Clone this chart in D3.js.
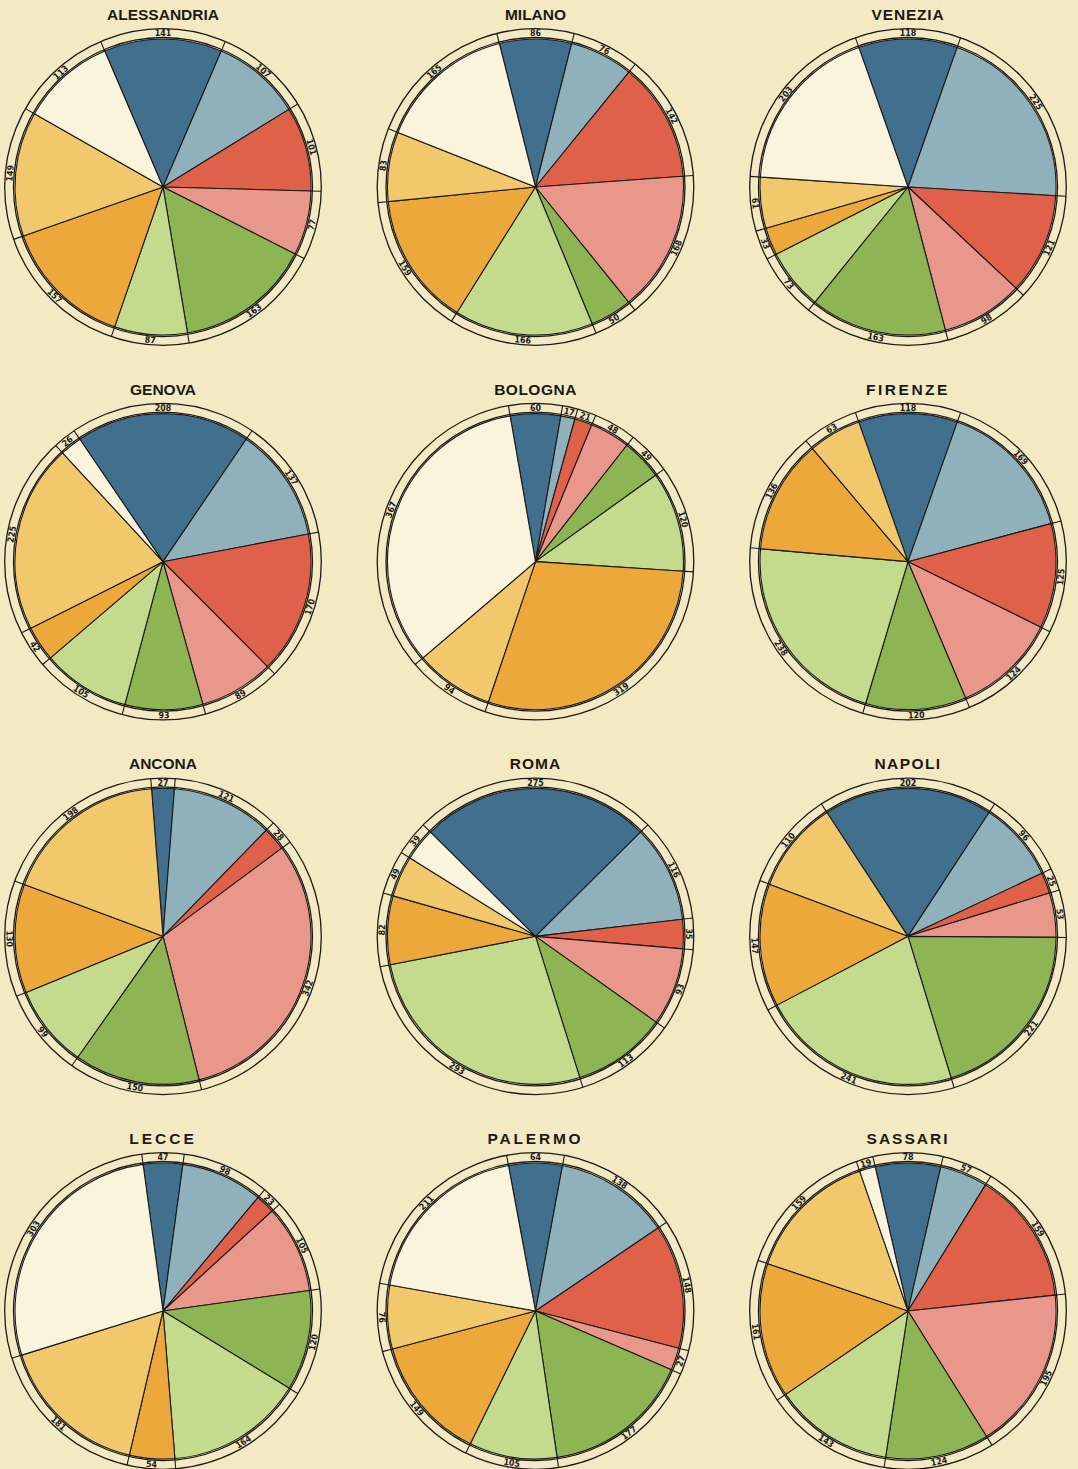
<!DOCTYPE html>
<html>
<head>
<meta charset="utf-8">
<script src="https://cdn.jsdelivr.net/npm/d3@7"></script>
<style>
  html, body { margin: 0; padding: 0; background: #f3eac3; }
  svg { display: block; }
</style>
</head>
<body>
<script>
// ---- DATA (values read from the rings; each city totals ~1095) ----
const cities = ["ALESSANDRIA", "MILANO", "VENEZIA", "GENOVA", "BOLOGNA", "FIRENZE",
                "ANCONA", "ROMA", "NAPOLI", "LECCE", "PALERMO", "SASSARI"];
const categories = ["blu scuro", "azzurro", "rosso", "rosa", "verde scuro",
                    "verde chiaro", "arancio", "giallo", "bianco"];
const alessandria = [141, 107, 101, 77, 163, 87, 157, 149, 113];
const milano      = [86, 76, 142, 168, 50, 166, 159, 83, 165];
const venezia     = [118, 225, 121, 98, 163, 73, 33, 61, 203];
const genova      = [208, 137, 170, 89, 93, 105, 42, 225, 26];
const bologna     = [60, 17, 21, 48, 49, 120, 319, 94, 367];
const firenze     = [118, 169, 125, 124, 120, 238, 136, 63, 0];
const ancona      = [27, 121, 28, 342, 150, 99, 130, 198, 0];
const roma        = [275, 116, 35, 93, 113, 293, 82, 49, 39];
const napoli      = [202, 96, 25, 53, 221, 241, 147, 110, 0];
const lecce       = [47, 98, 23, 105, 120, 164, 54, 181, 303];
const palermo     = [64, 138, 148, 27, 177, 105, 149, 76, 211];
const sassari     = [78, 57, 159, 195, 124, 143, 161, 159, 19];
const series = [alessandria, milano, venezia, genova, bologna, firenze,
                ancona, roma, napoli, lecce, palermo, sassari];

// ---- STYLE ----
const colors = ["#41708f", "#8fb1bb", "#df6149", "#e8978a", "#8db553",
                "#c4da8c", "#eca83a", "#f1c86c", "#faf4dc"];
const titleTracking = [0, 0, 0.8, 0, 0.5, 2.5, 0, 1, 1.4, 3, 2.8, 2];
const bg = "#f3eac3";
const ink = "#1c1a18";

const W = 1078, H = 1469;
const rPie = 148, rIn = 149.5, rOut = 158.3, rLab = 153.6;

const svg = d3.select("body").append("svg")
  .attr("width", W).attr("height", H)
  .attr("viewBox", `0 0 ${W} ${H}`);

svg.append("rect").attr("width", W).attr("height", H).attr("fill", bg);

const colX = d3.scalePoint().domain([0, 1, 2]).range([163, 908]);
const rowY = d3.scalePoint().domain([0, 1, 2, 3]).range([187, 1311]);

const arc = d3.arc().innerRadius(0).outerRadius(rPie);
const deg = r => r * 180 / Math.PI;

cities.forEach((name, i) => {
  const cx = colX(i % 3), cy = rowY(Math.floor(i / 3));
  const g = svg.append("g").attr("transform", `translate(${cx},${cy})`);
  const vals = series[i];
  const total = d3.sum(vals);
  const s = -Math.PI * vals[0] / total;   // first slice centred on the top
  const pie = d3.pie().sort(null).value(d => d)
    .startAngle(s).endAngle(s + 2 * Math.PI);
  const arcs = pie(vals).map((a, k) => Object.assign(a, { k }))
    .filter(a => a.value > 0);

  // slices
  g.selectAll("path.slice").data(arcs).join("path")
    .attr("class", "slice")
    .attr("d", arc)
    .attr("fill", d => colors[d.k])
    .attr("stroke", ink)
    .attr("stroke-width", 1.1)
    .attr("stroke-linejoin", "round");

  // ring
  [rIn, rOut].forEach(r => g.append("circle").attr("r", r)
    .attr("fill", "none").attr("stroke", ink).attr("stroke-width", 1.3));

  // ticks at the slice boundaries across the ring
  g.selectAll("line.tick").data(arcs).join("line")
    .attr("class", "tick")
    .attr("x1", d => (rPie - 1) * Math.sin(d.startAngle))
    .attr("y1", d => -(rPie - 1) * Math.cos(d.startAngle))
    .attr("x2", d => rOut * Math.sin(d.startAngle))
    .attr("y2", d => -rOut * Math.cos(d.startAngle))
    .attr("stroke", ink).attr("stroke-width", 1.1);

  // value labels inside the ring
  g.selectAll("text.val").data(arcs).join("text")
    .attr("class", "val")
    .attr("transform", d => {
      const m = (d.startAngle + d.endAngle) / 2;
      let a = ((deg(m) % 360) + 360) % 360;
      const rot = (a <= 90) ? a : (a >= 270 ? a - 360 : a - 180);
      const x = rLab * Math.sin(m), y = -rLab * Math.cos(m);
      return `translate(${x},${y}) rotate(${rot})`;
    })
    .attr("text-anchor", "middle")
    .attr("dominant-baseline", "central")
    .attr("font-family", "'Liberation Sans Narrow', 'DejaVu Sans Condensed', sans-serif")
    .attr("font-weight", "bold")
    .attr("font-size", 8.8)
    .attr("fill", ink)
    .text(d => d.value);

  // city title
  g.append("text")
    .attr("x", 0).attr("y", -167)
    .attr("text-anchor", "middle")
    .attr("font-family", "'Liberation Sans', Arial, sans-serif")
    .attr("font-weight", "bold")
    .attr("font-size", 15.5)
    .attr("letter-spacing", titleTracking[i])
    .attr("fill", ink)
    .text(name);
});
</script>
</body>
</html>
